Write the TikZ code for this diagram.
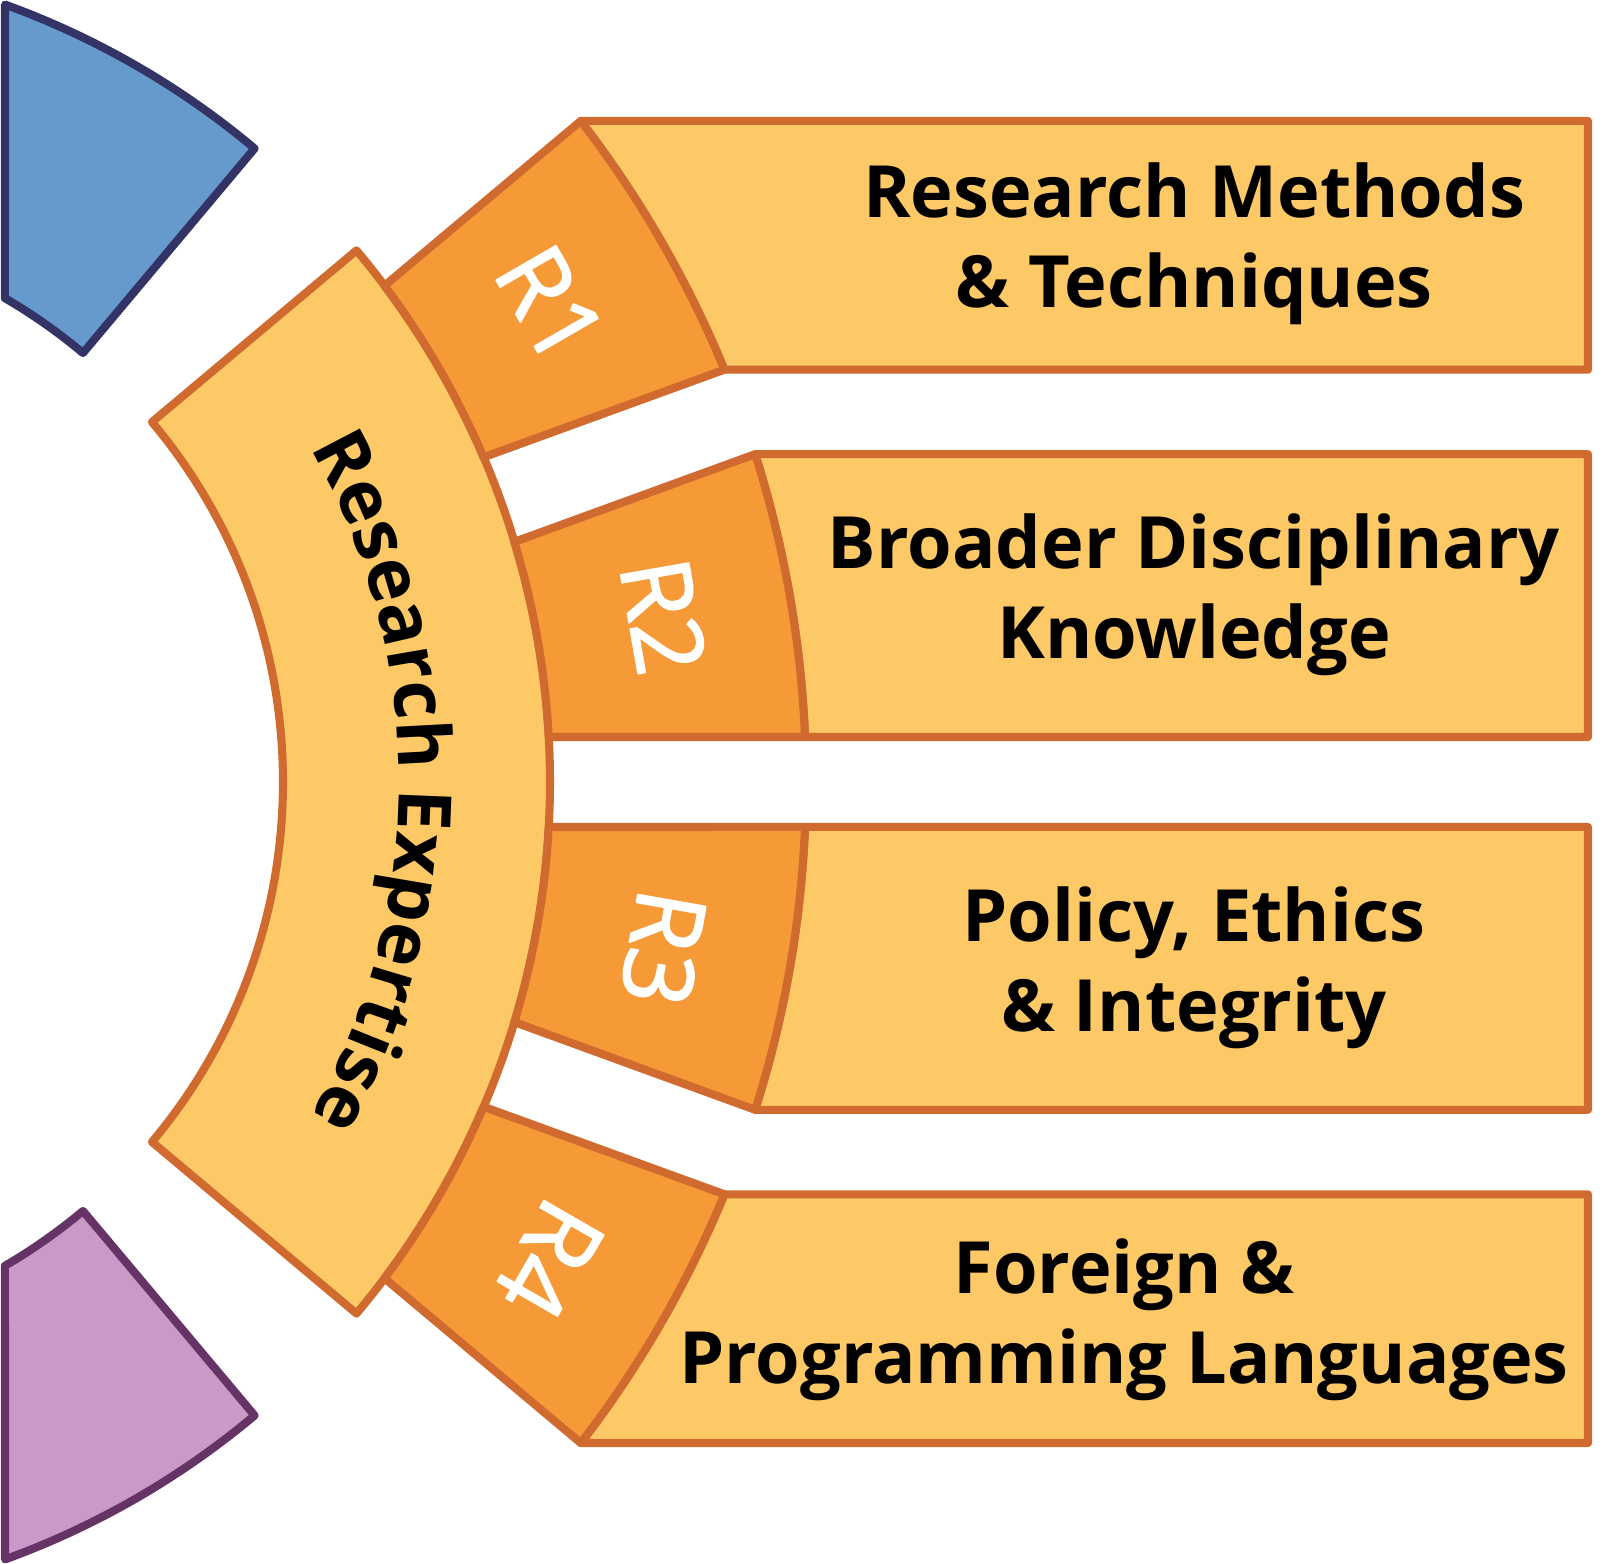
\documentclass[tikz,border=0pt]{standalone}
\usepackage{fontspec}
\setmainfont{Open Sans}
\newfontfamily\tagfont{Open Sans}[FakeBold=1.6]
\usetikzlibrary{decorations.text}
\definecolor{boxFill}{HTML}{FCC966}
\definecolor{segFill}{HTML}{F69A37}
\definecolor{segLine}{HTML}{D16A2F}
\definecolor{blueFill}{HTML}{6699CC}
\definecolor{blueLine}{HTML}{333366}
\definecolor{plumFill}{HTML}{CA99C7}
\definecolor{plumLine}{HTML}{663366}

\begin{document}
\begin{tikzpicture}[
    x=0.01cm, y=0.01cm,
    line width=2.3pt, line join=round,
    ring/.style={draw=segLine, fill=#1},
    tag/.style={text=white, font=\tagfont\fontsize{27.5}{30}\selectfont},
    item/.style={align=center, font=\bfseries\fontsize{20.5}{25.6}\selectfont},
  ]
    \useasboundingbox (277,-782) rectangle (1888,782);
    % neighbouring parts of the inner ring
    \draw[draw=blueLine, fill=blueFill] (50:827) arc[start angle=50, end angle=70.06, radius=827]
      -- (59.77:560) arc[start angle=59.77, end angle=50, radius=560] -- cycle;
    \draw[draw=plumLine, fill=plumFill] (-50:827) arc[start angle=-50, end angle=-70.06, radius=827]
      -- (-59.77:560) arc[start angle=-59.77, end angle=-50, radius=560] -- cycle;
    % inner ring
    \draw[ring=boxFill] (40:560) -- (40:827) arc[start angle=40, end angle=-40, radius=827]
      -- (-40:560) arc[start angle=-40, end angle=40, radius=560] -- cycle;
    \path[decorate, decoration={text along path, text align=center,
        text={|\bfseries\fontsize{21}{25}\selectfont|Research Expertise}}]
      (40:676) arc[start angle=40, end angle=-40, radius=676];
    % outer corners of the segments
    \coordinate (xr) at (1865,0);
    \coordinate (c1t) at (37.62:1083);  \coordinate (c1b) at (22.38:1083);
    \coordinate (c2t) at (17.62:1083);  \coordinate (c2b) at (2.38:1083);
    \coordinate (c3t) at (-2.38:1083);  \coordinate (c3b) at (-17.62:1083);
    \coordinate (c4t) at (-22.38:1083); \coordinate (c4b) at (-37.62:1083);
    % boxes
    \draw[ring=boxFill] (c1b) arc[start angle=22.38, end angle=37.62, radius=1083] -- (c1t -| xr) -- (c1b -| xr) -- cycle;
    \draw[ring=boxFill] (c2b) arc[start angle=2.38, end angle=17.62, radius=1083] -- (c2t -| xr) -- (c2b -| xr) -- cycle;
    \draw[ring=boxFill] (c3b) arc[start angle=-17.62, end angle=-2.38, radius=1083] -- (c3t -| xr) -- (c3b -| xr) -- cycle;
    \draw[ring=boxFill] (c4b) arc[start angle=-37.62, end angle=-22.38, radius=1083] -- (c4t -| xr) -- (c4b -| xr) -- cycle;
    % segments
    \draw[ring=segFill] (36.88:827) -- (c1t) arc[start angle=37.62, end angle=22.38, radius=1083]
      -- (23.12:827) arc[start angle=23.12, end angle=36.88, radius=827] -- cycle;
    \draw[ring=segFill] (16.88:827) -- (c2t) arc[start angle=17.62, end angle=2.38, radius=1083]
      -- (3.12:827) arc[start angle=3.12, end angle=16.88, radius=827] -- cycle;
    \draw[ring=segFill] (-3.12:827) -- (c3t) arc[start angle=-2.38, end angle=-17.62, radius=1083]
      -- (-16.88:827) arc[start angle=-16.88, end angle=-3.12, radius=827] -- cycle;
    \draw[ring=segFill] (-23.12:827) -- (c4t) arc[start angle=-22.38, end angle=-37.62, radius=1083]
      -- (-36.88:827) arc[start angle=-36.88, end angle=-23.12, radius=827] -- cycle;
    \node[tag, rotate=-60]  (r1) at (30:955)  {R1};
    \node[tag, rotate=-80]  (r2) at (10:955)  {R2};
    \node[tag, rotate=-100] (r3) at (-10:955) {R3};
    \node[tag, rotate=-120] (r4) at (-30:955) {R4};
    \node[item] (t1) at (1471,538)  {Research Methods\\\& Techniques};
    \node[item] (t2) at (1471,187)  {Broader Disciplinary\\Knowledge};
    \node[item] (t3) at (1471,-186) {Policy, Ethics\\\& Integrity};
    \node[item] (t4) at (1401,-538) {Foreign \&\\Programming Languages};
  \end{tikzpicture}
\end{document}
